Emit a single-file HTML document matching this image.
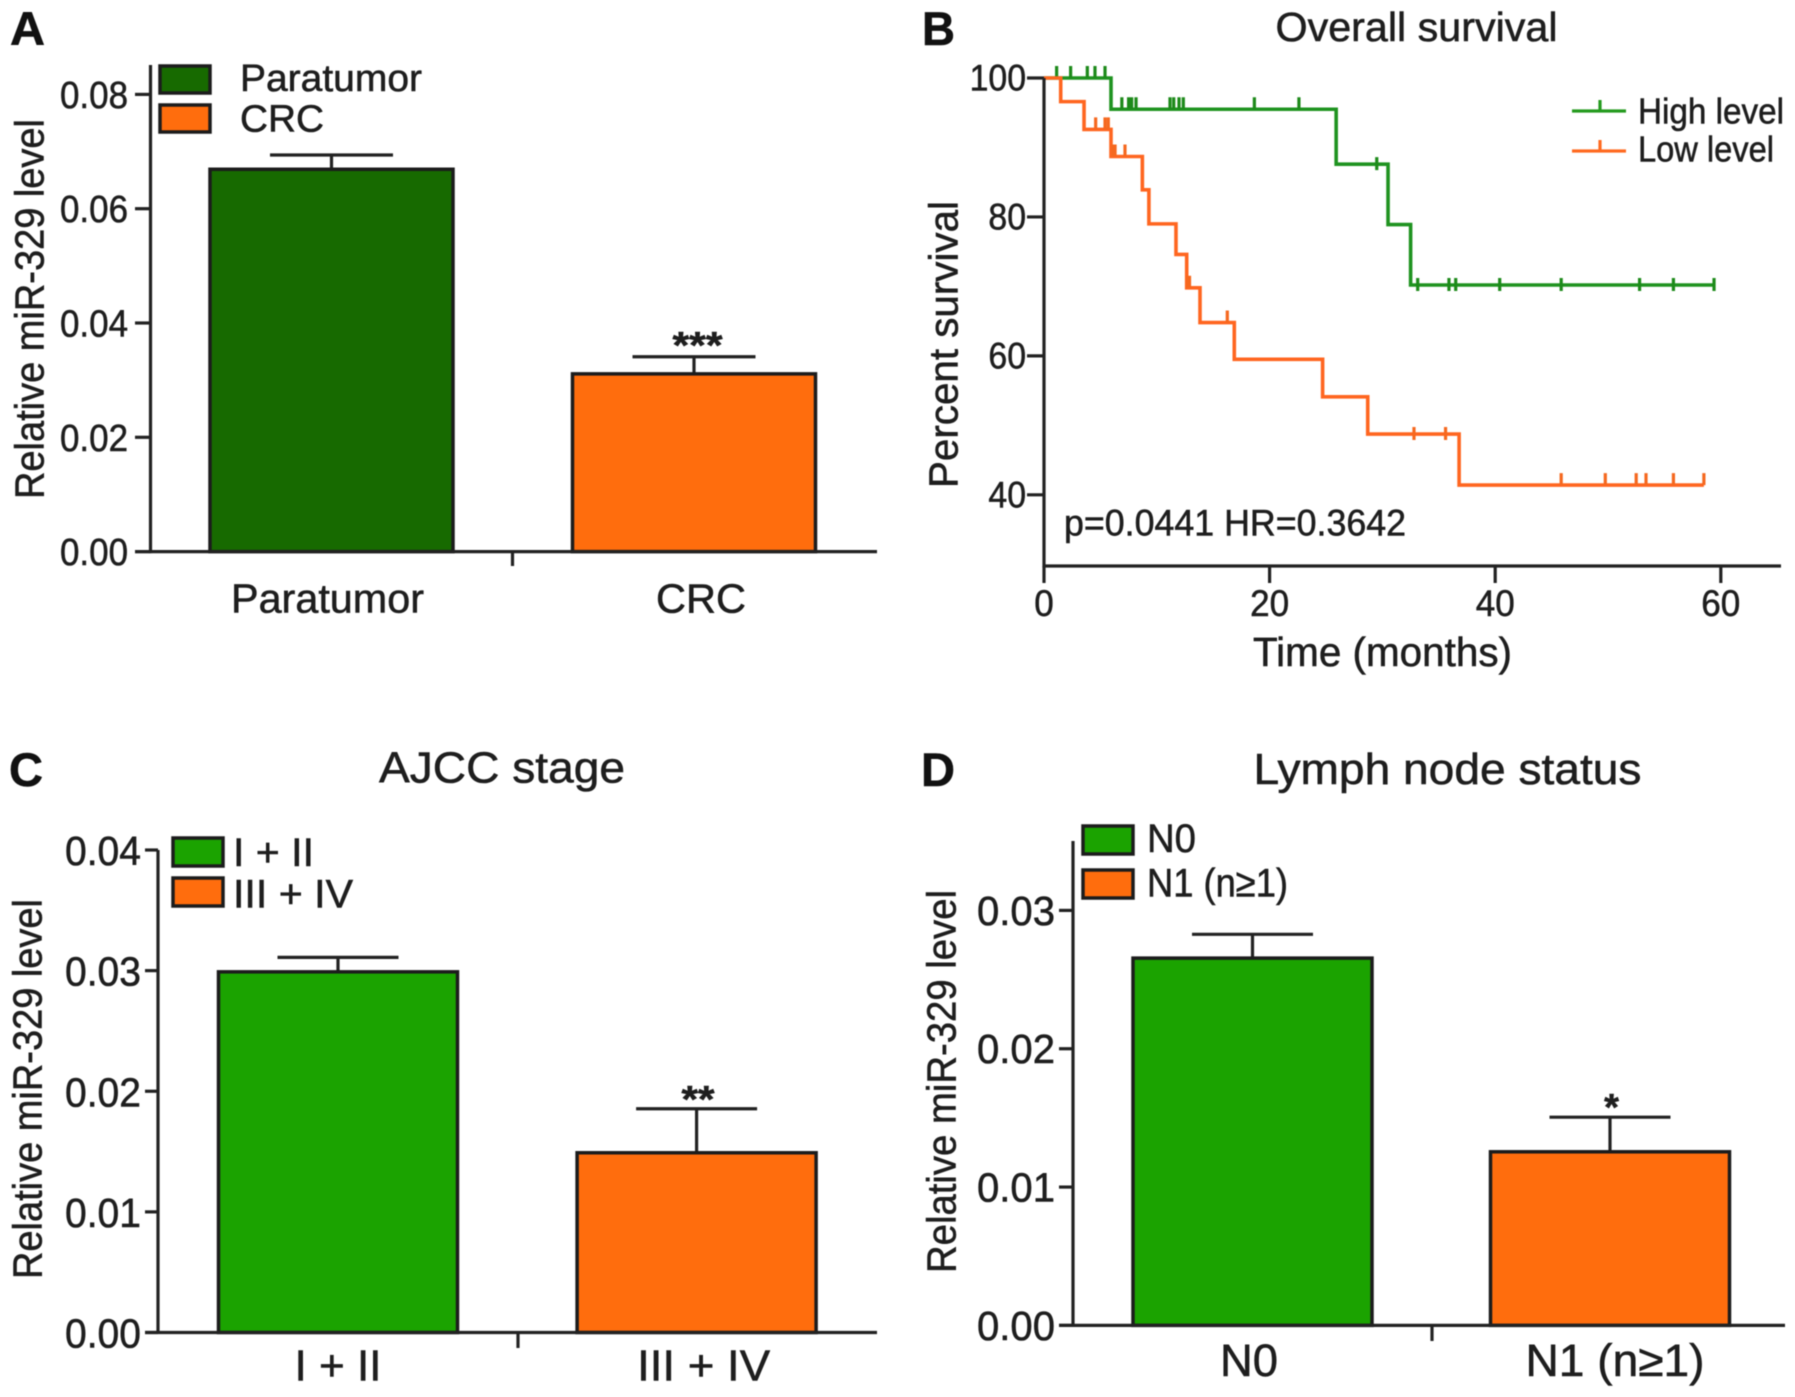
<!DOCTYPE html>
<html lang="en">
<head>
<meta charset="utf-8">
<title>miR-329 expression and overall survival</title>
<style>
  html, body { margin: 0; padding: 0; background: #fff; }
  body { width: 1795px; height: 1397px; overflow: hidden; }
  svg { display: block; filter: blur(0.65px); }
  text { font-family: "Liberation Sans", Arial, sans-serif; fill: #1e1e1e; stroke: #1e1e1e; stroke-width: 0.55px; }
  .panel-letter { font-weight: bold; font-size: 47px; fill: #111; stroke: #111; }
  .swatch { stroke: #1c1c1c; stroke-width: 3.5; }
</style>
</head>
<body>
<svg id="figure" xmlns="http://www.w3.org/2000/svg" width="1795" height="1397" viewBox="0 0 1795 1397">
  <rect x="0" y="0" width="1795" height="1397" fill="#fff"/>

  <g id="panel-a">
    <text class="panel-letter" x="10" y="45" textLength="35" lengthAdjust="spacingAndGlyphs">A</text>
    <text transform="translate(43.5,499) rotate(-90)" font-size="41" textLength="380" lengthAdjust="spacingAndGlyphs">Relative miR-329 level</text>
    <g>
      <rect class="swatch" x="160" y="66" width="50" height="27" fill="#176a00"/>
      <text x="240" y="91" font-size="38" textLength="182" lengthAdjust="spacingAndGlyphs">Paratumor</text>
      <rect class="swatch" x="160" y="105" width="50" height="27" fill="#ff6d0d"/>
      <text x="240" y="131.5" font-size="38" textLength="84" lengthAdjust="spacingAndGlyphs">CRC</text>
    </g>
    <text x="697.5" y="358" font-size="38" font-weight="bold" text-anchor="middle" textLength="50" lengthAdjust="spacingAndGlyphs">***</text>
  </g>

  <g id="panel-b">
    <text class="panel-letter" x="922" y="45" textLength="33" lengthAdjust="spacingAndGlyphs">B</text>
    <text x="1275.5" y="41" font-size="41" textLength="282" lengthAdjust="spacingAndGlyphs">Overall survival</text>
    <text transform="translate(957.5,488) rotate(-90)" font-size="41" textLength="287" lengthAdjust="spacingAndGlyphs">Percent survival</text>
    <text x="1253" y="666" font-size="41" textLength="259" lengthAdjust="spacingAndGlyphs">Time (months)</text>
    <text x="1064" y="535.5" font-size="37" textLength="342" lengthAdjust="spacingAndGlyphs">p=0.0441 HR=0.3642</text>
    <g>
      <path d="M1572 111H1626M1600 100V111" fill="none" stroke="#249a1e" stroke-width="3.2"/>
      <text x="1638" y="123.5" font-size="36" textLength="146" lengthAdjust="spacingAndGlyphs">High level</text>
      <path d="M1572 151H1626M1600 140V151" fill="none" stroke="#ff6a20" stroke-width="3.2"/>
      <text x="1638" y="161.5" font-size="36" textLength="136" lengthAdjust="spacingAndGlyphs">Low level</text>
    </g>
  </g>

  <g id="panel-c">
    <text class="panel-letter" x="9" y="786" textLength="34" lengthAdjust="spacingAndGlyphs">C</text>
    <text x="379" y="782.5" font-size="44" textLength="246" lengthAdjust="spacingAndGlyphs">AJCC stage</text>
    <text transform="translate(41.5,1279) rotate(-90)" font-size="41" textLength="380" lengthAdjust="spacingAndGlyphs">Relative miR-329 level</text>
    <g>
      <rect class="swatch" x="173" y="838" width="50" height="28" fill="#1ba300"/>
      <text x="233" y="866" font-size="40" textLength="81" lengthAdjust="spacingAndGlyphs">I + II</text>
      <rect class="swatch" x="173" y="878" width="50" height="28" fill="#ff6d0d"/>
      <text x="233" y="907.5" font-size="40" textLength="120" lengthAdjust="spacingAndGlyphs">III + IV</text>
    </g>
    <text x="698" y="1112" font-size="38" font-weight="bold" text-anchor="middle" textLength="33" lengthAdjust="spacingAndGlyphs">**</text>
  </g>

  <g id="panel-d">
    <text class="panel-letter" x="921" y="786" textLength="34" lengthAdjust="spacingAndGlyphs">D</text>
    <text x="1253.5" y="784" font-size="44" textLength="388" lengthAdjust="spacingAndGlyphs">Lymph node status</text>
    <text transform="translate(955.5,1273) rotate(-90)" font-size="41" textLength="383" lengthAdjust="spacingAndGlyphs">Relative miR-329 level</text>
    <g>
      <rect class="swatch" x="1083" y="826" width="50" height="28" fill="#1ba300"/>
      <text x="1147" y="852" font-size="40" textLength="49" lengthAdjust="spacingAndGlyphs">N0</text>
      <rect class="swatch" x="1083" y="870" width="50" height="28" fill="#ff6d0d"/>
      <text x="1147" y="896.5" font-size="40" textLength="141" lengthAdjust="spacingAndGlyphs">N1 (n≥1)</text>
    </g>
    <text x="1611.5" y="1120" font-size="38" font-weight="bold" text-anchor="middle">*</text>
  </g>
</svg>

<script>
// ---- Panel A data ----
const panelACategories = ['Paratumor', 'CRC'];
const panelAMeans = [0.0669, 0.0311];
const panelAErrors = [0.0025, 0.003];
const panelATicks = [0, 0.02, 0.04, 0.06, 0.08];
const panelATickLabels = ['0.00', '0.02', '0.04', '0.06', '0.08'];

// ---- Panel C data ----
const panelCCategories = ['I + II', 'III + IV'];
const panelCMeans = [0.0299, 0.0149];
const panelCErrors = [0.0012, 0.00365];
const panelCTicks = [0, 0.01, 0.02, 0.03, 0.04];
const panelCTickLabels = ['0.00', '0.01', '0.02', '0.03', '0.04'];

// ---- Panel D data ----
const panelDCategories = ['N0', 'N1 (n≥1)'];
const panelDMeans = [0.02655, 0.01255];
const panelDErrors = [0.00172, 0.0025];
const panelDTicks = [0, 0.01, 0.02, 0.03];
const panelDTickLabels = ['0.00', '0.01', '0.02', '0.03'];

// ---- Panel B data (Kaplan-Meier) ----
const survivalXTicks = [0, 20, 40, 60];
const survivalYTicks = [40, 60, 80, 100];
const highEventMonths = [5.94, 25.9, 30.5, 32.5];
const highSurvival = [100, 95.5, 87.6, 78.9, 70.2];
const highLastMonth = 59.5;
const highCensoredAbove = [1.12, 2.36, 3.84, 4.52, 5.41, 6.9, 7.5, 7.77, 8.16, 11.17, 11.5, 11.97, 12.35, 18.65, 22.6];
const highCensoredCentered = [29.5, 33.13, 35.9, 36.5, 40.4, 45.85, 52.8, 55.8, 59.4];
const lowEventMonths = [1.48, 3.55, 5.94, 8.72, 9.3, 11.7, 12.65, 13.83, 16.87, 24.7, 28.7, 36.8];
const lowSurvival = [100, 96.6, 92.6, 88.7, 83.9, 79, 74.6, 69.8, 64.8, 59.5, 54.1, 48.75, 41.4];
const lowLastMonth = 58.5;
const lowCensoredAbove = [4.58, 5.41, 5.7, 6.09, 6.3, 7.18, 12.74, 12.9, 16.25, 45.85, 49.76, 52.5, 53.37, 55.8, 58.5];
const lowCensoredCentered = [32.8, 35.6];

const SVG_NS = 'http://www.w3.org/2000/svg';
const INK = '#222';

function linearScale(d0, d1, r0, r1) {
  return function (v) { return r0 + (v - d0) * (r1 - r0) / (d1 - d0); };
}
function make(parent, tag, geometry) {
  const el = document.createElementNS(SVG_NS, tag);
  Object.keys(geometry).forEach(function (k) { el.setAttribute(k, geometry[k]); });
  parent.appendChild(el);
  return el;
}
function slug(s) {
  return String(s).toLowerCase().replace(/[^a-z0-9.]+/g, '-').replace(/^-|-$/g, '');
}
function segment(parent, x1, y1, x2, y2, color, width) {
  return make(parent, 'line', { x1: x1, y1: y1, x2: x2, y2: y2, stroke: color || INK, 'stroke-width': width || 3.2 });
}

function drawBarPanel(cfg) {
  const root = document.getElementById(cfg.id);
  const y = linearScale(cfg.domainMin, cfg.domainMax, cfg.baseY, cfg.topTickY);
  const bandCenter = function (i) { return cfg.firstCenter + i * cfg.step; };
  const axisX = cfg.axisX;

  cfg.categories.forEach(function (cat, i) {
    const cx = bandCenter(i);
    const stem = segment(root, cx, y(cfg.means[i]), cx, y(cfg.means[i] + cfg.errors[i]));
    
    
    const cap = segment(root, cx - cfg.capHalf, y(cfg.means[i] + cfg.errors[i]), cx + cfg.capHalf, y(cfg.means[i] + cfg.errors[i]));
    
    
    const bar = make(root, 'rect', {
      x: cx - cfg.barWidth / 2, y: y(cfg.means[i]),
      width: cfg.barWidth, height: cfg.baseY - y(cfg.means[i]),
      fill: cfg.colors[i], stroke: '#1c1c1c', 'stroke-width': 3.5
    });
    
    
    const label = make(root, 'text', {
      x: cx + cfg.labelOffsets[i], y: cfg.categoryBaseline, 'font-size': cfg.categorySize,
      'text-anchor': 'middle', textLength: cfg.labelWidths[i], lengthAdjust: 'spacingAndGlyphs'
    });
    label.textContent = cat;
    
    
  });

  const yAxis = segment(root, axisX, cfg.axisTopY, axisX, cfg.baseY + 1.5);
  
  
  const xAxis = segment(root, cfg.tickLeft, cfg.baseY, cfg.axisRight, cfg.baseY);
  
  
  const midTick = segment(root, cfg.midTickX, cfg.baseY, cfg.midTickX, cfg.midTickEnd);
  
  

  cfg.ticks.forEach(function (t, i) {
    const tick = segment(root, cfg.tickLeft, y(t), axisX, y(t));
    
    
    const txt = make(root, 'text', {
      x: cfg.tickTextRight, y: y(t) + cfg.tickTextDy, 'font-size': cfg.tickSize,
      'text-anchor': 'end', textLength: cfg.tickTextWidth, lengthAdjust: 'spacingAndGlyphs'
    });
    txt.textContent = cfg.tickLabels[i];
    
    
  });
}

drawBarPanel({
  id: 'panel-a', categories: panelACategories, means: panelAMeans, errors: panelAErrors,
  ticks: panelATicks, tickLabels: panelATickLabels,
  domainMin: 0, domainMax: 0.08, baseY: 551.6, topTickY: 94.4,
  axisX: 150.5, axisTopY: 65, axisRight: 877, tickLeft: 135,
  midTickX: 512.5, midTickEnd: 566,
  firstCenter: 331.5, step: 362.5, barWidth: 243, capHalf: 61.5,
  colors: ['#176a00', '#ff6d0d'],
  labelOffsets: [-4, 7], labelWidths: [193, 90], categoryBaseline: 612.5, categorySize: 41,
  tickTextRight: 128, tickTextDy: 13.5, tickSize: 38, tickTextWidth: 68
});

drawBarPanel({
  id: 'panel-c', categories: panelCCategories, means: panelCMeans, errors: panelCErrors,
  ticks: panelCTicks, tickLabels: panelCTickLabels,
  domainMin: 0, domainMax: 0.04, baseY: 1332.5, topTickY: 850,
  axisX: 158, axisTopY: 850, axisRight: 877, tickLeft: 145,
  midTickX: 518, midTickEnd: 1348,
  firstCenter: 338, step: 358.6, barWidth: 239, capHalf: 60.5,
  colors: ['#1ba300', '#ff6d0d'],
  labelOffsets: [0, 7], labelWidths: [87, 133], categoryBaseline: 1380.5, categorySize: 44,
  tickTextRight: 141, tickTextDy: 15, tickSize: 41, tickTextWidth: 76
});

drawBarPanel({
  id: 'panel-d', categories: panelDCategories, means: panelDMeans, errors: panelDErrors,
  ticks: panelDTicks, tickLabels: panelDTickLabels,
  domainMin: 0, domainMax: 0.03, baseY: 1325.4, topTickY: 910.4,
  axisX: 1073, axisTopY: 841, axisRight: 1785, tickLeft: 1059,
  midTickX: 1432, midTickEnd: 1341,
  firstCenter: 1252.5, step: 357.5, barWidth: 239, capHalf: 60.5,
  colors: ['#1ba300', '#ff6d0d'],
  labelOffsets: [-3.5, 5], labelWidths: [58, 179], categoryBaseline: 1376, categorySize: 45,
  tickTextRight: 1055, tickTextDy: 14.5, tickSize: 41, tickTextWidth: 78
});

// ---- Panel B ----
(function drawSurvival() {
  const root = document.getElementById('panel-b');
  const xAt = linearScale(0, 60, 1044, 1720.8);
  const yAt = linearScale(40, 100, 494.8, 78);

  function levelAt(events, levels, t) {
    let s = levels[0];
    events.forEach(function (m, i) { if (t >= m) { s = levels[i + 1]; } });
    return s;
  }
  function stepPath(events, levels, last) {
    let d = 'M' + xAt(0) + ' ' + yAt(levels[0]);
    events.forEach(function (m, i) {
      d += 'H' + xAt(m) + 'V' + yAt(levels[i + 1]);
    });
    return d + 'H' + xAt(last);
  }
  function censorPath(events, levels, months, up, down) {
    return months.map(function (m) {
      const ly = yAt(levelAt(events, levels, m));
      return 'M' + xAt(m) + ' ' + (ly - up) + 'V' + (ly + down);
    }).join('');
  }

  const highLine = make(root, 'path', { d: stepPath(highEventMonths, highSurvival, highLastMonth), fill: 'none', stroke: '#1f9320', 'stroke-width': 3.6 });
  
  
  const highMarks = make(root, 'path', { d: censorPath(highEventMonths, highSurvival, highCensoredAbove, 12, 0) + censorPath(highEventMonths, highSurvival, highCensoredCentered, 7, 6), fill: 'none', stroke: '#1d8a1a', 'stroke-width': 3.2 });
  
  
  const lowLine = make(root, 'path', { d: stepPath(lowEventMonths, lowSurvival, lowLastMonth), fill: 'none', stroke: '#ff6620', 'stroke-width': 3.6 });
  
  
  const lowMarks = make(root, 'path', { d: censorPath(lowEventMonths, lowSurvival, lowCensoredAbove, 12, 0) + censorPath(lowEventMonths, lowSurvival, lowCensoredCentered, 7, 6), fill: 'none', stroke: '#f5681f', 'stroke-width': 3.2 });
  
  

  const yAxis = segment(root, 1044, 78, 1044, 567.5);
  
  
  const xAxis = segment(root, 1044, 566, 1781, 566);
  
  

  survivalYTicks.forEach(function (t) {
    const tick = segment(root, 1027, yAt(t), 1044, yAt(t));
    
    
    const txt = make(root, 'text', { x: 1026, y: yAt(t) + 12.5, 'font-size': 37, 'text-anchor': 'end', textLength: String(t).length * 18.8, lengthAdjust: 'spacingAndGlyphs' });
    txt.textContent = String(t);
    
    
  });
  survivalXTicks.forEach(function (t) {
    const tick = segment(root, xAt(t), 566, xAt(t), 583);
    
    
    const txt = make(root, 'text', { x: xAt(t), y: 616, 'font-size': 37, 'text-anchor': 'middle', textLength: String(t).length * 19.5, lengthAdjust: 'spacingAndGlyphs' });
    txt.textContent = String(t);
    
    
  });
})();
</script>
</body>
</html>
